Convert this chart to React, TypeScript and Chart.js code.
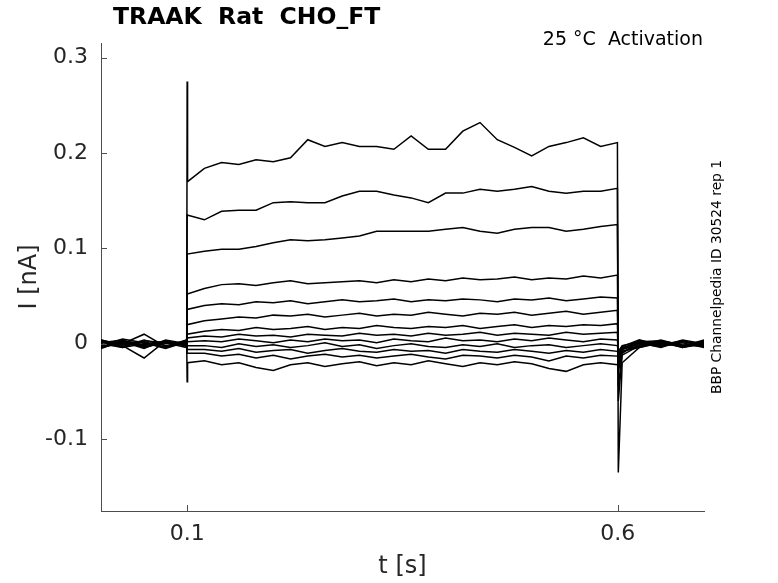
import { useEffect, useRef } from "react";
import { Chart, registerables } from "chart.js";

Chart.register(...registerables);

// sample times (s): baseline, step onset, pulse, step offset, tail
const TIME = [
  0, 0.025, 0.05, 0.075, 0.0995,
  0.1,
  0.1005, 0.12, 0.14, 0.16, 0.18, 0.2, 0.22, 0.24, 0.26, 0.28, 0.3, 0.32, 0.34,
  0.36, 0.38, 0.4, 0.42, 0.44, 0.46, 0.48, 0.5, 0.52, 0.54, 0.56, 0.58, 0.5995,
  0.6005,
  0.605, 0.625, 0.65, 0.675, 0.7,
];

// currents (nA), one sweep per array, same order as TIME
const SWEEP_1 = [
  0.002, -0.003, 0.004, -0.002, 0.001,
  0.275,
  0.17, 0.184, 0.19, 0.188, 0.193, 0.191, 0.195, 0.214, 0.207, 0.211, 0.207, 0.207, 0.204,
  0.218, 0.204, 0.204, 0.223, 0.232, 0.214, 0.206, 0.197, 0.207, 0.211, 0.216, 0.207, 0.211,
  -0.135,
  -0.02, -0.004, 0.001, -0.003, 0.002,
];
const SWEEP_2 = [
  -0.002, 0.003, -0.004, 0.002, -0.001,
  0.135,
  0.135, 0.13, 0.139, 0.14, 0.14, 0.148, 0.149, 0.148, 0.148, 0.155, 0.16, 0.16, 0.156,
  0.153, 0.148, 0.158, 0.158, 0.162, 0.16, 0.162, 0.165, 0.16, 0.158, 0.16, 0.16, 0.163,
  -0.06,
  -0.012, -0.002, 0.003, -0.001, -0.003,
];
const SWEEP_3 = [
  0.004, -0.001, 0.002, -0.004, 0.003,
  0.094,
  0.094, 0.097, 0.099, 0.099, 0.102, 0.106, 0.109, 0.108, 0.109, 0.111, 0.113, 0.118, 0.118,
  0.118, 0.118, 0.12, 0.122, 0.118, 0.116, 0.12, 0.122, 0.122, 0.118, 0.12, 0.123, 0.125,
  -0.045,
  -0.01, 0.002, -0.003, 0.004, 0.0,
];
const SWEEP_4 = [
  -0.004, 0.001, -0.002, 0.003, -0.003,
  0.052,
  0.052, 0.058, 0.062, 0.063, 0.061, 0.064, 0.066, 0.063, 0.064, 0.065, 0.066, 0.064, 0.067,
  0.065, 0.068, 0.066, 0.069, 0.067, 0.068, 0.07, 0.067, 0.069, 0.068, 0.071, 0.069, 0.072,
  -0.03,
  -0.008, -0.004, 0.002, -0.002, 0.003,
];
const SWEEP_5 = [
  0.001, 0.004, -0.003, 0.0, 0.002,
  0.036,
  0.036, 0.04, 0.042, 0.041, 0.044, 0.043, 0.045, 0.042, 0.044, 0.046, 0.044, 0.045, 0.047,
  0.044, 0.046, 0.045, 0.047, 0.046, 0.044, 0.047, 0.046, 0.048, 0.045, 0.047, 0.049, 0.048,
  -0.025,
  -0.006, 0.001, -0.004, 0.003, -0.002,
];
const SWEEP_6 = [
  -0.003, 0.002, 0.001, -0.004, 0.004,
  0.02,
  0.02, 0.024, 0.026, 0.028, 0.027, 0.03, 0.029, 0.031, 0.028, 0.03, 0.032, 0.029, 0.031,
  0.03, 0.033, 0.031, 0.029, 0.032, 0.031, 0.033, 0.03, 0.032, 0.034, 0.031, 0.033, 0.035,
  -0.02,
  -0.005, 0.003, 0.0, -0.003, 0.004,
];
const SWEEP_7 = [
  0.003, -0.004, 0.0, 0.002, -0.002,
  0.01,
  0.01, 0.013, 0.015, 0.014, 0.017, 0.015, 0.016, 0.018, 0.015, 0.017, 0.016, 0.019, 0.017,
  0.016, 0.018, 0.017, 0.019, 0.016, 0.018, 0.02, 0.017, 0.019, 0.018, 0.02, 0.019, 0.021,
  -0.015,
  -0.004, -0.001, 0.004, -0.002, 0.001,
];
const SWEEP_8 = [
  -0.001, 0.002, -0.005, 0.004, 0.0,
  0.006,
  0.006, 0.008, 0.007, 0.01, 0.008, 0.009, 0.007, 0.01, 0.009, 0.008, 0.011, 0.009, 0.01,
  0.008, 0.011, 0.009, 0.01, 0.012, 0.009, 0.011, 0.01, 0.009, 0.012, 0.01, 0.011, 0.012,
  -0.012,
  -0.003, 0.004, -0.002, 0.001, -0.004,
];
const SWEEP_9 = [
  0.002, 0.0, 0.01, -0.003, 0.004,
  0.002,
  0.002, 0.003, 0.002, 0.005, 0.003, 0.001, 0.004, 0.002, 0.005, 0.003, 0.004, 0.001, 0.005,
  0.003, 0.002, 0.006, 0.003, 0.004, 0.002, 0.005, 0.003, 0.006, 0.004, 0.002, 0.005, 0.004,
  -0.008,
  -0.002, 0.002, 0.003, -0.004, 0.001,
];
const SWEEP_10 = [
  -0.005, 0.003, -0.001, 0.001, -0.004,
  -0.002,
  -0.002, -0.002, -0.004, 0.0, -0.003, -0.001, -0.004, -0.002, 0.001, -0.003, -0.001, -0.005, -0.002,
  0.0, -0.003, -0.004, -0.001, -0.003, 0.0, -0.004, -0.002, -0.001, -0.004, -0.002, 0.0, -0.002,
  -0.01,
  -0.004, 0.0, -0.003, 0.002, -0.001,
];
const SWEEP_11 = [
  0.004, -0.002, -0.015, 0.003, -0.002,
  -0.006,
  -0.006, -0.006, -0.008, -0.005, -0.009, -0.007, -0.006, -0.01, -0.007, -0.005, -0.008, -0.009, -0.006,
  -0.008, -0.007, -0.01, -0.006, -0.008, -0.009, -0.006, -0.008, -0.01, -0.007, -0.009, -0.006, -0.008,
  -0.012,
  -0.005, -0.003, 0.001, -0.002, 0.003,
];
const SWEEP_12 = [
  -0.002, 0.005, 0.001, -0.005, 0.002,
  -0.01,
  -0.01, -0.01, -0.013, -0.011, -0.015, -0.012, -0.016, -0.013, -0.011, -0.014, -0.012, -0.015, -0.013,
  -0.011, -0.014, -0.016, -0.012, -0.013, -0.015, -0.012, -0.014, -0.018, -0.013, -0.015, -0.012, -0.013,
  -0.016,
  -0.006, 0.002, -0.001, 0.003, -0.003,
];
const SWEEP_13 = [
  0.0, -0.004, 0.003, 0.001, -0.001,
  -0.04,
  -0.02, -0.018, -0.022, -0.02, -0.025, -0.028, -0.022, -0.02, -0.024, -0.021, -0.019, -0.023, -0.02,
  -0.022, -0.018, -0.021, -0.024, -0.02, -0.022, -0.019, -0.021, -0.026, -0.029, -0.022, -0.02, -0.022,
  -0.024,
  -0.008, -0.002, 0.002, -0.004, 0.0,
];

const SWEEPS = [
  SWEEP_1, SWEEP_2, SWEEP_3, SWEEP_4, SWEEP_5, SWEEP_6, SWEEP_7,
  SWEEP_8, SWEEP_9, SWEEP_10, SWEEP_11, SWEEP_12, SWEEP_13,
];

const X_TICKS = [0.1, 0.6];
const X_TICK_LABELS = ["0.1", "0.6"];
const Y_TICKS = [-0.1, 0, 0.1, 0.2, 0.3];
const Y_TICK_LABELS = ["-0.1", "0", "0.1", "0.2", "0.3"];

const FONT = "'DejaVu Sans', sans-serif";
const AXIS_COLOR = "#4d4d4d";
const TEXT_COLOR = "#262626";

const decorations = {
  id: "decorations",
  afterDraw(chart: Chart) {
    const { ctx, chartArea, scales } = chart;
    ctx.save();

    // inward tick marks
    ctx.strokeStyle = AXIS_COLOR;
    ctx.lineWidth = 1;
    ctx.beginPath();
    Y_TICKS.forEach((v) => {
      const y = Math.round(scales.y.getPixelForValue(v)) + 0.5;
      ctx.moveTo(chartArea.left, y);
      ctx.lineTo(chartArea.left + 6, y);
    });
    X_TICKS.forEach((v) => {
      const x = Math.round(scales.x.getPixelForValue(v)) + 0.5;
      ctx.moveTo(x, chartArea.bottom);
      ctx.lineTo(x, chartArea.bottom - 6);
    });
    ctx.stroke();

    ctx.fillStyle = "#000";
    ctx.textBaseline = "middle";

    ctx.font = `bold 23.5px ${FONT}`;
    ctx.textAlign = "left";
    ctx.fillText("TRAAK  Rat  CHO_FT", 113, 18);

    ctx.font = `19px ${FONT}`;
    ctx.textAlign = "right";
    ctx.fillText("25 °C  Activation", chartArea.right - 1, 40);

    ctx.fillStyle = TEXT_COLOR;
    ctx.font = `24px ${FONT}`;
    ctx.textAlign = "center";
    ctx.fillText("t [s]", (chartArea.left + chartArea.right) / 2, 567);

    const midY = (chartArea.top + chartArea.bottom) / 2;
    ctx.save();
    ctx.translate(30, midY);
    ctx.rotate(-Math.PI / 2);
    ctx.fillText("I [nA]", 0, 0);
    ctx.restore();

    ctx.fillStyle = "#000";
    ctx.font = `13.8px ${FONT}`;
    ctx.save();
    ctx.translate(717, midY);
    ctx.rotate(-Math.PI / 2);
    ctx.fillText("BBP Channelpedia ID 30524 rep 1", 0, 0);
    ctx.restore();

    ctx.restore();
  },
};

export default function App() {
  const canvasRef = useRef<HTMLCanvasElement>(null);
  const chartRef = useRef<Chart | null>(null);

  useEffect(() => {
    if (!canvasRef.current) return;

    if (chartRef.current) {
      chartRef.current.destroy();
    }

    chartRef.current = new Chart(canvasRef.current, {
      type: "line",
      data: {
        datasets: SWEEPS.map((sweep) => ({
          data: TIME.map((t, i) => ({ x: t, y: sweep[i] })),
          borderColor: "#000",
          borderWidth: 1.5,
          pointRadius: 0,
          tension: 0,
          fill: false,
        })),
      },
      options: {
        animation: false,
        responsive: false,
        events: [],
        layout: { padding: { left: 0, right: 74, top: 43, bottom: 0 } },
        plugins: {
          legend: { display: false },
          tooltip: { enabled: false },
        },
        scales: {
          x: {
            type: "linear",
            min: 0,
            max: 0.7,
            afterFit: (scale) => {
              scale.height = 72;
            },
            afterBuildTicks: (scale) => {
              scale.ticks = X_TICKS.map((v) => ({ value: v }));
            },
            grid: { display: false, drawTicks: false },
            border: { display: true, color: AXIS_COLOR, width: 1 },
            ticks: {
              padding: 10,
              color: TEXT_COLOR,
              font: { family: FONT, size: 22 },
              maxRotation: 0,
              callback: (value) => X_TICK_LABELS[X_TICKS.indexOf(Number(value))] ?? "",
            },
          },
          y: {
            type: "linear",
            min: -0.1755,
            max: 0.3155,
            afterFit: (scale) => {
              scale.width = 101;
            },
            afterBuildTicks: (scale) => {
              scale.ticks = Y_TICKS.map((v) => ({ value: v }));
            },
            grid: { display: false, drawTicks: false },
            border: { display: true, color: AXIS_COLOR, width: 1 },
            ticks: {
              padding: 13,
              color: TEXT_COLOR,
              font: { family: FONT, size: 22 },
              callback: (value) => Y_TICK_LABELS[Y_TICKS.indexOf(Number(value))] ?? "",
            },
          },
        },
      },
      plugins: [decorations],
    });

    return () => {
      if (chartRef.current) {
        chartRef.current.destroy();
        chartRef.current = null;
      }
    };
  }, []);

  return (
    <div style={{ position: "absolute", left: 0, top: 0, width: 778, height: 583, background: "#fff" }}>
      <canvas ref={canvasRef} width={778} height={583} style={{ width: 778, height: 583 }}></canvas>
    </div>
  );
}
